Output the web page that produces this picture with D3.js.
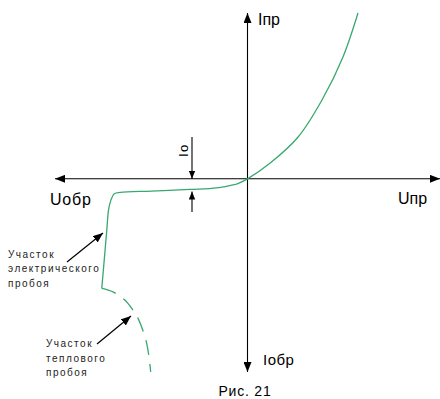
<!DOCTYPE html>
<html>
<head>
<meta charset="utf-8">
<script src="https://cdn.jsdelivr.net/npm/d3@7"></script>
<style>
    body { margin: 0; background: #fff; }
    svg { display: block; font-family: "Liberation Sans", Arial, sans-serif; }
</style>
</head>
<body>
<div id="chart"></div>
<script>
    // forward branch (U > 0)
    const forwardU = [-0.56, 0, 1.18, 2.63, 3.87, 4.96, 5.74];
    const forwardI = [-0.32, 0, 0.95, 2.52, 4.75, 7.35, 10];
    // reverse branch up to electrical breakdown
    const reverseU = [-0.56, -1.6, -2.99, -5.0, -6.6, -6.92, -7.1, -7.22, -7.31, -7.57];
    const reverseI = [-0.32, -0.55, -0.64, -0.74, -0.82, -0.9, -1.3, -1.89, -3.1, -6.61];
    // thermal breakdown (dashed)
    const thermalU = [-7.57, -6.99, -6.36, -5.95, -5.69, -5.24, -5.03];
    const thermalI = [-6.61, -6.82, -7.32, -7.92, -8.40, -9.91, -11.64];

    const axisLabels = { uRev: "Uобр", uFwd: "Uпр", iFwd: "Iпр", iRev: "Iобр", i0: "Io" };
    const noteElectric = ["Участок", "электрического", "пробоя"];
    const noteThermal = ["Участок", "теплового", "пробоя"];
    const caption = "Рис. 21";

    const width = 440, height = 399;
    const green = "#38a86e";

    const x = d3.scaleLinear().domain([-10, 10]).range([55, 440]);
    const y = d3.scaleLinear().domain([-11.65, 10]).range([372, 13]);

    const svg = d3.select("#chart").append("svg")
        .attr("width", width)
        .attr("height", height);

    const defs = svg.append("defs");
    defs.append("marker")
        .attr("id", "arr")
        .attr("viewBox", "0 0 10 8")
        .attr("refX", 10)
        .attr("refY", 4)
        .attr("markerWidth", 10)
        .attr("markerHeight", 8)
        .attr("markerUnits", "userSpaceOnUse")
        .attr("orient", "auto")
        .append("path")
        .attr("d", "M0,0 L10,4 L0,8 Z")
        .attr("fill", "#000");
    defs.append("marker")
        .attr("id", "arrS")
        .attr("viewBox", "0 0 10 8")
        .attr("refX", 10)
        .attr("refY", 4)
        .attr("markerWidth", 8)
        .attr("markerHeight", 7)
        .attr("markerUnits", "userSpaceOnUse")
        .attr("orient", "auto")
        .append("path")
        .attr("d", "M0,0 L10,4 L0,8 Z")
        .attr("fill", "#000");

    const x0 = x(0), y0 = y(0);

    // axes
    const axes = svg.append("g").attr("stroke", "#000").attr("stroke-width", 1.1);
    axes.append("line")
        .attr("x1", x0).attr("y1", y0).attr("x2", x.range()[0]).attr("y2", y0)
        .attr("marker-end", "url(#arr)");
    axes.append("line")
        .attr("x1", x0).attr("y1", y0).attr("x2", x.range()[1]).attr("y2", y0)
        .attr("marker-end", "url(#arr)");
    axes.append("line")
        .attr("x1", x0).attr("y1", y0).attr("x2", x0).attr("y2", y.range()[1])
        .attr("marker-end", "url(#arr)");
    axes.append("line")
        .attr("x1", x0).attr("y1", y0).attr("x2", x0).attr("y2", y.range()[0])
        .attr("marker-end", "url(#arr)");

    // curves
    const line = d3.line()
        .x(d => x(d[0]))
        .y(d => y(d[1]))
        .curve(d3.curveCatmullRom.alpha(0.5));

    svg.append("path")
        .datum(d3.zip(forwardU, forwardI))
        .attr("d", line)
        .attr("fill", "none")
        .attr("stroke", green)
        .attr("stroke-width", 1.3);

    svg.append("path")
        .datum(d3.zip(reverseU, reverseI))
        .attr("d", line)
        .attr("fill", "none")
        .attr("stroke", green)
        .attr("stroke-width", 1.3);

    svg.append("path")
        .datum(d3.zip(thermalU, thermalI))
        .attr("d", line)
        .attr("fill", "none")
        .attr("stroke", green)
        .attr("stroke-width", 1.3)
        .attr("stroke-dasharray", "15,9");

    // Io dimension arrows
    const ioX = 192;
    const yLeak = y(-0.77);
    svg.append("line")
        .attr("x1", ioX).attr("y1", 137).attr("x2", ioX).attr("y2", y0)
        .attr("stroke", "#000").attr("stroke-width", 1.1)
        .attr("marker-end", "url(#arrS)");
    svg.append("line")
        .attr("x1", ioX).attr("y1", 212).attr("x2", ioX).attr("y2", yLeak)
        .attr("stroke", "#000").attr("stroke-width", 1.1)
        .attr("marker-end", "url(#arrS)");
    svg.append("text")
        .attr("transform", `translate(${ioX - 4},157) rotate(-90)`)
        .attr("font-size", 13)
        .attr("letter-spacing", 1.5)
        .text(axisLabels.i0);

    // axis labels
    svg.append("text").attr("x", 50).attr("y", 205).attr("font-size", 16)
        .attr("letter-spacing", 0.8).text(axisLabels.uRev);
    svg.append("text").attr("x", 398).attr("y", 204).attr("font-size", 16)
        .text(axisLabels.uFwd);
    svg.append("text").attr("x", 258).attr("y", 25).attr("font-size", 16)
        .text(axisLabels.iFwd);
    svg.append("text").attr("x", 263).attr("y", 365).attr("font-size", 15)
        .attr("letter-spacing", 0.5).text(axisLabels.iRev);

    // notes with pointer arrows
    function note(lines, tx, ty, from, to) {
        const t = svg.append("text")
            .attr("font-size", 10)
            .attr("letter-spacing", 1.5)
            .attr("fill", "#222");
        t.selectAll("tspan")
            .data(lines)
            .enter()
            .append("tspan")
            .attr("x", tx)
            .attr("y", (d, i) => ty + i * 14.5)
            .text(d => d);
        svg.append("line")
            .attr("x1", from[0]).attr("y1", from[1])
            .attr("x2", to[0]).attr("y2", to[1])
            .attr("stroke", "#000").attr("stroke-width", 1.2)
            .attr("marker-end", "url(#arr)");
    }
    note(noteElectric, 8, 257.5, [67, 262], [103, 233]);
    note(noteThermal, 46, 347, [97, 344], [131, 316]);

    // caption
    svg.append("text")
        .attr("x", 245).attr("y", 396)
        .attr("text-anchor", "middle")
        .attr("font-size", 14)
        .attr("letter-spacing", 0.8)
        .text(caption);
</script>
</body>
</html>
